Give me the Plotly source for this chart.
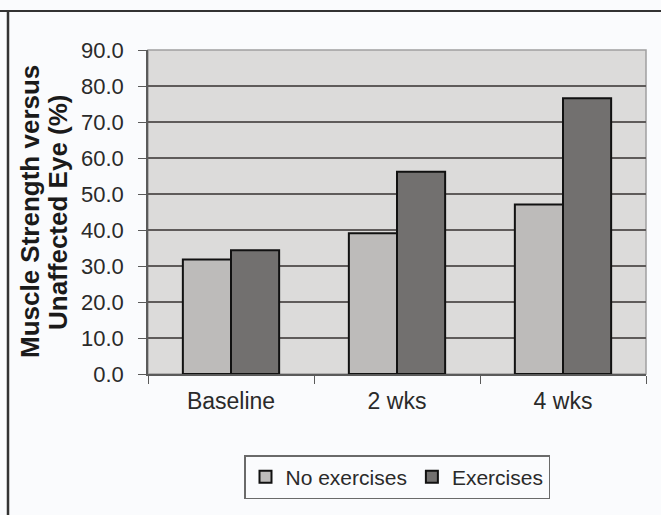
import plotly.graph_objects as go

categories = ["Baseline", "2 wks", "4 wks"]
no_exercises = [31.8, 39.1, 47.1]
exercises = [34.4, 56.2, 76.6]
y_ticks = [0, 10, 20, 30, 40, 50, 60, 70, 80, 90]
y_tick_labels = ["0.0", "10.0", "20.0", "30.0", "40.0", "50.0", "60.0", "70.0", "80.0", "90.0"]
title_lines = ["Muscle Strength versus", "Unaffected Eye (%)"]

fig = go.Figure()
fig.add_trace(go.Bar(name="No exercises", x=categories, y=no_exercises,
                     marker=dict(color="#bdbbba", line=dict(color="#111111", width=2))))
fig.add_trace(go.Bar(name="Exercises", x=categories, y=exercises,
                     marker=dict(color="#72706f", line=dict(color="#111111", width=2))))

font = "Liberation Sans, Arial, sans-serif"
W = 498.0
H = 324.0
fig.update_layout(
    width=661, height=515,
    margin=dict(l=148, r=15, t=50, b=141),
    paper_bgcolor="#fafbfd",
    plot_bgcolor="#dcdbda",
    barmode="group", bargap=0.42, bargroupgap=0,
    font=dict(family=font, size=22, color="#2a2a2a"),
    showlegend=True,
    legend=dict(orientation="h", x=0.5, xanchor="center", y=-0.25, yanchor="top",
                bgcolor="#fafbfd", bordercolor="#6a6a6a", borderwidth=1.5,
                font=dict(size=21, color="#2a2a2a"), itemwidth=30, tracegroupgap=0),
    xaxis=dict(showline=True, linecolor="#5a5a5a", linewidth=1.5, ticks="outside",
               tickson="boundaries", ticklen=8, tickcolor="#5a5a5a",
               tickfont=dict(size=23), showgrid=False, ticklabelstandoff=6),
    yaxis=dict(range=[0, 90], tickvals=y_ticks, ticktext=y_tick_labels,
               showline=True, linecolor="#5a5a5a", linewidth=1.5, ticks="outside",
               ticklen=8, tickcolor="#5a5a5a", gridcolor="#5f5b5a", gridwidth=1.5,
               tickfont=dict(size=22), zeroline=False, ticklabelstandoff=10),
    annotations=[
        dict(text="<b>%s</b>" % title_lines[0], xref="paper", yref="paper",
             x=(30 - 148) / W, y=0.5, textangle=-90, showarrow=False,
             xanchor="center", yanchor="middle", font=dict(size=26, color="#1a1a1a")),
        dict(text="<b>%s</b>" % title_lines[1], xref="paper", yref="paper",
             x=(58 - 148) / W, y=0.5, textangle=-90, showarrow=False,
             xanchor="center", yanchor="middle", font=dict(size=26, color="#1a1a1a")),
    ],
    shapes=[
        dict(type="rect", xref="paper", yref="paper", x0=0, x1=1, y0=0, y1=1,
             line=dict(color="#a0a0a0", width=1.5), layer="below"),
        dict(type="line", xref="paper", yref="paper", x0=-148 / W, x1=1 + 15 / W,
             y0=1 + 39 / H, y1=1 + 39 / H, line=dict(color="#333333", width=2)),
        dict(type="line", xref="paper", yref="paper", x0=-140 / W, x1=-140 / W,
             y0=1 + 39 / H, y1=-141 / H, line=dict(color="#333333", width=2.5)),
    ],
)
fig.write_html("out.html", config={"displayModeBar": False},
               post_script="document.body.style.margin='0';document.body.style.overflow='hidden';")
